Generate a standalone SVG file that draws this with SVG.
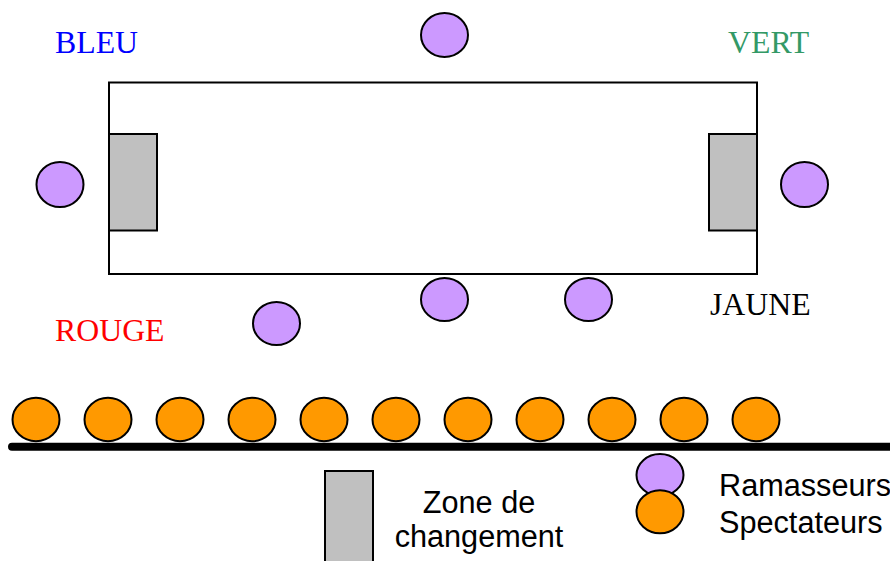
<svg xmlns="http://www.w3.org/2000/svg" width="890" height="561" viewBox="0 0 890 561">
<style>
.zone{fill:#c0c0c0;stroke:#000;stroke-width:2}
.ram{fill:#cc99ff;stroke:#000;stroke-width:2}
.spe{fill:#ff9900;stroke:#000;stroke-width:2}
.serif{font-family:"Liberation Serif","Times New Roman",serif;font-size:31.8px}
.sans{font-family:"Liberation Sans",Arial,sans-serif;font-size:30.67px;fill:#000}
</style>
<rect width="890" height="561" fill="#fff"/>
<g id="terrain">
<rect x="109" y="82.5" width="648" height="191.5" fill="#fff" stroke="#000" stroke-width="2"/>
</g>
<g id="zone-gauche"><rect class="zone" x="109" y="134" width="48" height="96.5"/></g>
<g id="zone-droite"><rect class="zone" x="709" y="134" width="48" height="96.5"/></g>
<g id="ramasseurs">
<ellipse class="ram" cx="444.5" cy="35" rx="23.5" ry="22"/>
<ellipse class="ram" cx="60" cy="184.5" rx="23.5" ry="22.5"/>
<ellipse class="ram" cx="804.5" cy="184.5" rx="23.5" ry="22.5"/>
<ellipse class="ram" cx="444.5" cy="299.5" rx="23.5" ry="21.5"/>
<ellipse class="ram" cx="588.5" cy="299.5" rx="23.5" ry="21.5"/>
<ellipse class="ram" cx="276.5" cy="323.5" rx="23.5" ry="21.5"/>
</g>
<g id="labels">
<text class="serif" x="55" y="52.7" fill="#0000ff">BLEU</text>
<text class="serif" x="728" y="52.7" fill="#339966">VERT</text>
<text class="serif" x="55" y="340.7" fill="#ff0000">ROUGE</text>
<text class="serif" x="710" y="315" fill="#000">JAUNE</text>
</g>
<g id="connectors">
<line x1="12" y1="446.7" x2="896" y2="446.7" stroke="#000" stroke-width="8" stroke-linecap="round"/>
</g>
<g id="spectateurs">
<ellipse class="spe" cx="36" cy="419.5" rx="23.5" ry="21.7"/>
<ellipse class="spe" cx="108" cy="419.5" rx="23.5" ry="21.7"/>
<ellipse class="spe" cx="180" cy="419.5" rx="23.5" ry="21.7"/>
<ellipse class="spe" cx="252" cy="419.5" rx="23.5" ry="21.7"/>
<ellipse class="spe" cx="324" cy="419.5" rx="23.5" ry="21.7"/>
<ellipse class="spe" cx="396" cy="419.5" rx="23.5" ry="21.7"/>
<ellipse class="spe" cx="468" cy="419.5" rx="23.5" ry="21.7"/>
<ellipse class="spe" cx="540" cy="419.5" rx="23.5" ry="21.7"/>
<ellipse class="spe" cx="612" cy="419.5" rx="23.5" ry="21.7"/>
<ellipse class="spe" cx="684" cy="419.5" rx="23.5" ry="21.7"/>
<ellipse class="spe" cx="756" cy="419.5" rx="23.5" ry="21.7"/>
</g>
<g id="legende-zone">
<rect class="zone" x="325" y="471" width="48" height="100"/>
<text class="sans" x="479" y="512.7" text-anchor="middle">Zone de</text>
<text class="sans" x="479" y="546.7" text-anchor="middle">changement</text>
</g>
<g id="legende-personnes">
<ellipse class="ram" cx="660" cy="475" rx="23.5" ry="21"/>
<ellipse class="spe" cx="660" cy="511.7" rx="23.5" ry="21.5"/>
<text class="sans" x="719" y="495.5" font-size="31.3">Ramasseurs</text>
<text class="sans" x="719" y="532.7">Spectateurs</text>
</g>
</svg>
